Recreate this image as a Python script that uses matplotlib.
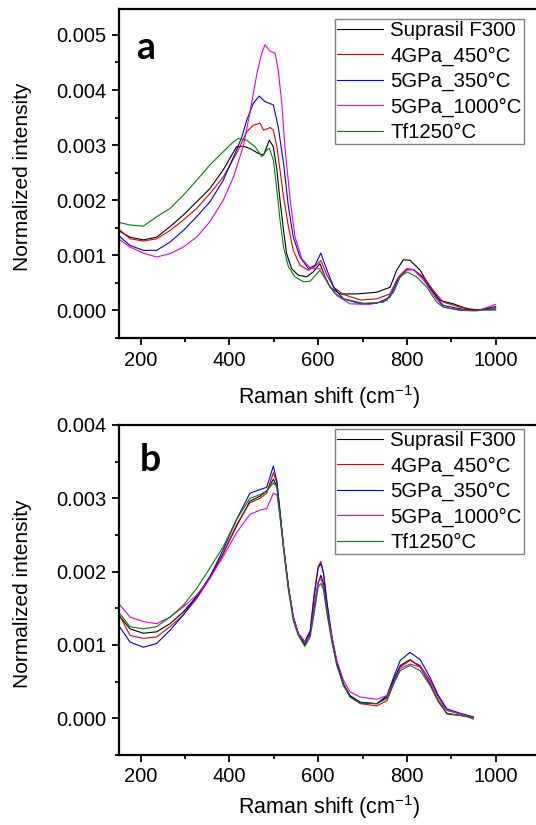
import matplotlib
matplotlib.use('Agg')
import matplotlib.pyplot as plt
import numpy as np
from matplotlib.ticker import MultipleLocator, FormatStrFormatter

plt.rcParams['font.family'] = ['Liberation Sans', 'DejaVu Sans']
plt.rcParams['mathtext.default'] = 'regular'

labels = ['Suprasil F300', '4GPa_450°C', '5GPa_350°C', '5GPa_1000°C', 'Tf1250°C']
colors = ['#000000', '#e00000', '#0000e0', '#e000e0', '#008000']

# ---- panel a (intensities in units of 1e-3) ----
a_x_black = [150, 176, 206, 236, 266, 296, 326, 356, 386, 416, 431, 446, 465, 477, 490, 499, 507, 514, 522, 529,
             540, 555, 574, 589, 604, 616, 627, 649, 687, 732, 762, 777, 792, 807, 830, 852, 875, 905, 943, 1000]
a_y_black = [1.45, 1.33, 1.28, 1.33, 1.52, 1.73, 1.97, 2.21, 2.55, 2.97, 2.98, 2.94, 2.85, 2.82, 3.09, 2.97, 2.55, 2.00, 1.45, 1.03,
             0.76, 0.64, 0.61, 0.70, 0.85, 0.60, 0.42, 0.30, 0.30, 0.33, 0.42, 0.73, 0.92, 0.91, 0.73, 0.42, 0.18, 0.12, 0.01, 0.01]

a_x_red = [150, 176, 206, 236, 266, 296, 326, 356, 386, 416, 439, 454, 469, 477, 492, 499, 507, 514, 522, 533,
           544, 559, 578, 593, 606, 620, 635, 657, 695, 732, 762, 781, 800, 815, 837, 860, 882, 920, 958, 1000]
a_y_red = [1.48, 1.30, 1.26, 1.30, 1.45, 1.64, 1.85, 2.12, 2.42, 2.85, 3.24, 3.36, 3.40, 3.27, 3.32, 3.27, 2.97, 2.55, 2.06, 1.52,
           1.09, 0.82, 0.73, 0.80, 0.91, 0.64, 0.42, 0.29, 0.19, 0.21, 0.30, 0.61, 0.76, 0.74, 0.61, 0.36, 0.15, 0.06, 0.01, 0.05]

a_x_blue = [150, 176, 206, 236, 266, 296, 326, 356, 386, 416, 428, 439, 454, 467, 480, 499, 510, 522, 533, 544,
            559, 578, 593, 606, 620, 635, 657, 695, 732, 762, 781, 800, 815, 837, 860, 882, 920, 958, 1000]
a_y_blue = [1.36, 1.18, 1.09, 1.09, 1.24, 1.45, 1.70, 1.97, 2.36, 2.91, 3.15, 3.45, 3.76, 3.89, 3.79, 3.73, 3.33, 2.67, 1.88, 1.33,
            0.97, 0.76, 0.82, 1.04, 0.73, 0.42, 0.21, 0.12, 0.13, 0.24, 0.58, 0.74, 0.74, 0.58, 0.30, 0.09, 0.03, 0.00, 0.07]

a_x_magenta = [150, 176, 206, 236, 266, 296, 326, 356, 386, 409, 431, 446, 462, 473, 480, 492, 503, 510, 518, 525,
               537, 548, 563, 582, 608, 623, 642, 672, 717, 755, 777, 800, 815, 837, 864, 882, 920, 958, 1000]
a_y_magenta = [1.30, 1.15, 1.04, 0.97, 1.03, 1.15, 1.33, 1.61, 2.00, 2.42, 2.97, 3.58, 4.30, 4.67, 4.82, 4.70, 4.67, 4.36, 3.76, 2.97,
               2.00, 1.33, 0.94, 0.77, 0.75, 0.48, 0.27, 0.12, 0.11, 0.18, 0.55, 0.74, 0.74, 0.56, 0.24, 0.06, 0.00, -0.01, 0.11]

a_x_green = [150, 176, 206, 236, 266, 296, 326, 356, 386, 409, 420, 439, 458, 473, 484, 490, 499, 507, 514, 522,
             533, 548, 567, 582, 604, 620, 635, 657, 702, 747, 770, 785, 800, 822, 845, 867, 882, 920, 958, 1000]
a_y_green = [1.60, 1.55, 1.53, 1.70, 1.85, 2.09, 2.36, 2.64, 2.88, 3.06, 3.12, 3.09, 2.97, 2.79, 2.91, 2.94, 2.73, 2.18, 1.64, 1.15,
             0.79, 0.61, 0.52, 0.53, 0.73, 0.52, 0.33, 0.21, 0.13, 0.15, 0.33, 0.61, 0.70, 0.61, 0.42, 0.15, 0.06, 0.01, 0.00, 0.03]

# ---- panel b (intensities in units of 1e-3) ----
b_x = [150, 176, 206, 236, 266, 296, 326, 356, 386, 416, 446, 469, 484, 499, 507, 514, 522, 533, 544, 555,
       570, 582, 591, 600, 606, 612, 620, 631, 642, 657, 672, 695, 732, 755, 770, 785, 807, 830, 852, 871,
       890, 920, 950]
b_y_black = [1.41, 1.22, 1.16, 1.18, 1.29, 1.45, 1.66, 1.93, 2.25, 2.62, 2.96, 3.03, 3.10, 3.26, 3.16, 2.80, 2.34, 1.79, 1.38, 1.16,
             1.00, 1.16, 1.52, 1.84, 1.95, 1.84, 1.47, 1.06, 0.74, 0.47, 0.31, 0.22, 0.20, 0.29, 0.52, 0.72, 0.80, 0.70, 0.47, 0.24,
             0.06, 0.04, 0.01]
b_y_red = [1.43, 1.13, 1.09, 1.11, 1.25, 1.41, 1.63, 1.91, 2.25, 2.64, 2.94, 3.00, 3.07, 3.35, 3.21, 2.82, 2.34, 1.79, 1.38, 1.16,
           1.04, 1.20, 1.70, 2.07, 2.14, 1.98, 1.57, 1.11, 0.77, 0.47, 0.29, 0.20, 0.17, 0.24, 0.47, 0.70, 0.79, 0.72, 0.52, 0.29,
           0.11, 0.06, -0.01]
b_y_blue = [1.27, 1.04, 0.97, 1.02, 1.20, 1.41, 1.66, 1.93, 2.30, 2.71, 3.07, 3.12, 3.15, 3.44, 3.23, 2.82, 2.34, 1.79, 1.38, 1.16,
            1.04, 1.18, 1.66, 2.05, 2.11, 1.98, 1.57, 1.11, 0.77, 0.45, 0.30, 0.21, 0.20, 0.31, 0.56, 0.79, 0.90, 0.80, 0.56, 0.31,
            0.13, 0.07, 0.02]
b_y_magenta = [1.57, 1.38, 1.32, 1.29, 1.38, 1.52, 1.68, 1.91, 2.21, 2.53, 2.78, 2.84, 2.86, 3.07, 3.05, 2.75, 2.34, 1.79, 1.38, 1.16,
               1.04, 1.13, 1.52, 1.86, 1.91, 1.79, 1.47, 1.11, 0.79, 0.52, 0.36, 0.29, 0.26, 0.31, 0.49, 0.68, 0.74, 0.70, 0.49, 0.24,
               0.11, 0.06, 0.01]
b_y_green = [1.45, 1.25, 1.22, 1.25, 1.38, 1.54, 1.77, 2.05, 2.34, 2.71, 3.00, 3.05, 3.10, 3.21, 3.16, 2.75, 2.30, 1.74, 1.33, 1.13,
             0.98, 1.11, 1.43, 1.79, 1.84, 1.75, 1.42, 1.04, 0.72, 0.45, 0.29, 0.21, 0.20, 0.27, 0.47, 0.65, 0.72, 0.65, 0.45, 0.22,
             0.07, 0.04, 0.01]

panel_a = [(a_x_black, a_y_black), (a_x_red, a_y_red), (a_x_blue, a_y_blue),
           (a_x_magenta, a_y_magenta), (a_x_green, a_y_green)]
panel_b = [(b_x, b_y_black), (b_x, b_y_red), (b_x, b_y_blue), (b_x, b_y_magenta), (b_x, b_y_green)]

W, H = 536, 825
fig = plt.figure(figsize=(W / 100, H / 100), dpi=100)
ax_a = fig.add_axes([118.5 / W, 1 - 338 / H, 421.5 / W, 329 / H])
ax_b = fig.add_axes([118.5 / W, 1 - 755 / H, 421.5 / W, 330 / H])

fs = 14.5


def style(ax, series, ylim, ymajor, letter, leg_y, let_xy, xpad):
    for (xs, ys), c, lab in zip(series, colors, labels):
        ax.plot(xs, np.array(ys) * 1e-3, color=c, lw=0.8, label=lab)
    ax.set_xlim(150, 1100)
    ax.set_ylim(*ylim)
    ax.xaxis.set_major_locator(MultipleLocator(200))
    ax.xaxis.set_minor_locator(MultipleLocator(100))
    ax.yaxis.set_major_locator(MultipleLocator(ymajor))
    ax.yaxis.set_minor_locator(MultipleLocator(ymajor / 2))
    ax.yaxis.set_major_formatter(FormatStrFormatter('%.3f'))
    ax.tick_params(which='both', direction='out', width=1.3, labelsize=fs, top=False, right=False)
    ax.tick_params(which='major', length=5, pad=4)
    ax.tick_params(which='minor', length=3)
    for s in ax.spines.values():
        s.set_linewidth(1.6)
    ax.set_xlabel(r'Raman shift (cm$^{\mathregular{-1}}$)', fontsize=15.5, labelpad=xpad)
    ax.set_ylabel('Normalized intensity', fontsize=15)
    ax.yaxis.set_label_coords(-0.205, 0.49)
    leg = ax.legend(loc='upper right', bbox_to_anchor=(0.962, leg_y), borderaxespad=0, fontsize=14.7,
                    frameon=True, fancybox=False, framealpha=1, edgecolor='#808080',
                    handlelength=2.25, handletextpad=0.34, labelspacing=0.3, borderpad=0.12)
    leg.get_frame().set_linewidth(1.0)
    ax.text(let_xy[0], let_xy[1], letter, transform=ax.transAxes, ha='center', va='center',
            fontsize=27, fontweight='bold', family='Lato')


style(ax_a, panel_a, (-0.0005, 0.00547), 0.001, 'a', 0.970, (0.065, 0.88), 10)
style(ax_b, panel_b, (-0.0005, 0.004), 0.001, 'b', 0.988, (0.075, 0.895), 5)

fig.savefig('out.png', dpi=100)
